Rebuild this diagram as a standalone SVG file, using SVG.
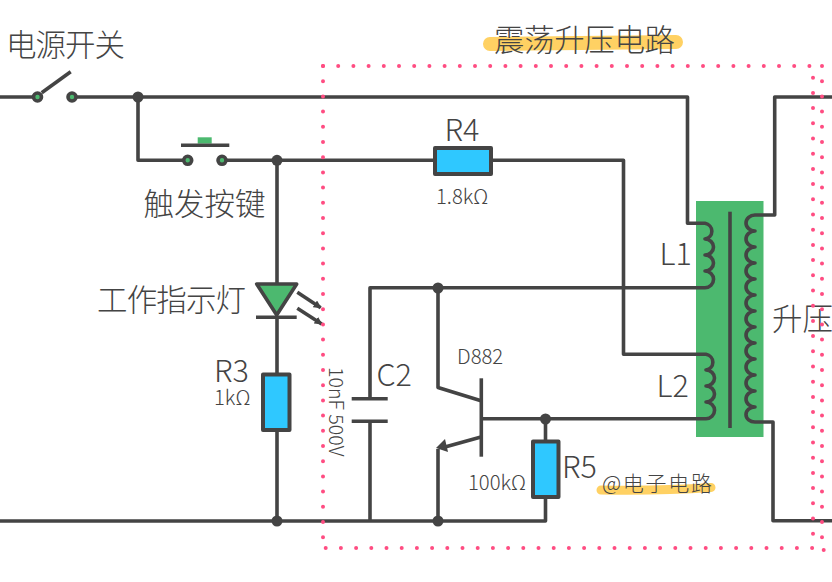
<svg xmlns="http://www.w3.org/2000/svg" width="832" height="582" viewBox="0 0 832 582">
<style>
.w{fill:none;stroke:#444;stroke-width:3.6;stroke-linejoin:round;stroke-linecap:butt}
.j{fill:#444}
.term{fill:#4cb96f;stroke:#444;stroke-width:3.6}
.res{fill:#2fc8ff;stroke:#444;stroke-width:4;stroke-linejoin:round}
.green{fill:#4cb96f}
.hl{fill:none;stroke:#ffd163;stroke-linecap:round}
.dot{fill:none;stroke:#ff4d82;stroke-width:4;stroke-linecap:round;stroke-dasharray:0 15.2}
text{font-family:"Noto Sans CJK SC","Noto Sans",sans-serif;fill:#444;font-weight:300}
.b{font-size:30.500px}
.s{font-size:20.300px}
</style>
<defs>
<marker id="a" viewBox="0 0 8 8" refX="7" refY="4" markerWidth="8" markerHeight="8" markerUnits="userSpaceOnUse" orient="auto"><path d="M0 0L8 4L0 8Z" fill="#444"/></marker>
</defs>
<g id="title"><path class="hl" stroke-width="14" d="M490 44Q580 43 676 42"/><text class="b" x="494" y="51" textLength="181">震荡升压电路</text></g>
<g id="transformer-core"><rect class="green" x="696" y="201" width="67.500" height="236"/></g>
<g id="connectors">
<path class="w" d="M0 97H33M76 97H687.500V223.300H705A8.500 8 0 0 1 705 239A8.500 8 0 0 1 705 255A8.500 8 0 0 1 705 271A8.500 8.300 0 0 1 705 287.700H370V397"/>
<path class="w" d="M370 423V521"/>
<path class="w" d="M0 521H545.500V498"/>
<path class="w" d="M138 97V160.300H183"/>
<path class="w" d="M226 160.300H434M491 160.300H623.500V354.300H706A8.500 8 0 0 1 706 370A8.500 8 0 0 1 706 386A8.500 8 0 0 1 706 402A8.500 8.300 0 0 1 706 418.700H481"/>
<path class="w" d="M545.500 419V441"/>
<path class="w" d="M277 160V284M277 317V373M277 431V521"/>
<path class="w" d="M832 97H774.700V215H755A9 8 0 0 0 755 231A9 8 0 0 0 755 247A9 8 0 0 0 755 263A9 8 0 0 0 755 279A9 8 0 0 0 755 295A9 8 0 0 0 755 311A9 8 0 0 0 755 327A9 8 0 0 0 755 343A9 8 0 0 0 755 359A9 8 0 0 0 755 375A9 8 0 0 0 755 391A9 8 0 0 0 755 407A9 7.500 0 0 0 755 422H773V520.700H832"/>
<path class="w" d="M438 288V387.500L481 400.700"/>
<path class="w" d="M481 437L445 447"/>
<path class="w" d="M438 449V521"/>
<path class="j" d="M436 448L445 439L448 452Z"/>
<circle class="j" cx="138" cy="97" r="5.500"/><circle class="j" cx="277" cy="160.300" r="5.500"/><circle class="j" cx="277" cy="521" r="5.500"/><circle class="j" cx="438" cy="288" r="5.500"/><circle class="j" cx="438" cy="521" r="5.500"/><circle class="j" cx="545.500" cy="419" r="5.500"/>
</g>
<g id="power-switch"><circle class="term" cx="37.500" cy="97" r="4"/><circle class="term" cx="72" cy="97" r="4"/><path class="w" d="M41.700 92.700L70.700 71.700"/><text class="b" x="6" y="56" textLength="119">电源开关</text></g>
<g id="trigger-button"><rect class="green" x="197.700" y="137.300" width="14" height="6.300"/><path class="w" d="M181 145.300H229.300"/><circle class="term" cx="187.700" cy="160.300" r="4"/><circle class="term" cx="222" cy="160.300" r="4"/><text class="b" x="143.500" y="215">触发按键</text></g>
<g id="led"><path class="w" d="M256.700 284H296.700L276.700 315Z" style="fill:#4cb96f"/><path class="w" d="M256 317.300H296.700"/><path class="w" d="M297.300 292.300L320.700 307.700" marker-end="url(#a)"/><path class="w" d="M297.300 308.300L321.700 324" marker-end="url(#a)"/><text class="b" x="97" y="311" textLength="149">工作指示灯</text></g>
<g id="r3"><rect class="res" x="263" y="374.500" width="26.500" height="55.500"/><text class="b" x="214" y="382">R3</text><text class="s" x="214" y="405">1kΩ</text></g>
<g id="r4"><rect class="res" x="435" y="148" width="56" height="26"/><text class="b" x="444.500" y="141">R4</text><text class="s" x="436" y="204">1.8kΩ</text></g>
<g id="r5"><rect class="res" x="533" y="441.500" width="25.500" height="55.500"/><text class="b" x="562" y="478">R5</text><text class="s" x="468" y="490">100kΩ</text></g>
<g id="c2"><path class="w" d="M351.700 398.700H387.700M351.700 421.300H387.700"/><text class="b" x="376.500" y="386">C2</text><text class="s" style="font-size:19.600px" transform="translate(329 367) rotate(90)">10nF 500V</text></g>
<g id="d882"><path class="w" d="M481.300 378.300V456.700"/><text class="s" x="457" y="364">D882</text></g>
<g id="transformer"><path class="w" d="M730 211.700V428"/><text class="b" x="659.500" y="265">L1</text><text class="b" x="656.500" y="397">L2</text><text class="b" x="772" y="330">升压</text></g>
<g id="watermark"><path class="hl" stroke-width="9" d="M601 490Q660 491 711 487.500"/><text x="602" y="491" font-size="21" letter-spacing="1.700">@电子电路</text></g>
<g id="boundary">
<path class="dot" d="M323 66H815"/><path class="dot" d="M323 66V540"/><path class="dot" d="M325.700 548H818"/>
<path class="dot" d="M813 77.700V538"/><path class="dot" d="M822 66V540"/>
<circle cx="823.700" cy="550" r="2" fill="#ff4d82"/>
</g>
</svg>
